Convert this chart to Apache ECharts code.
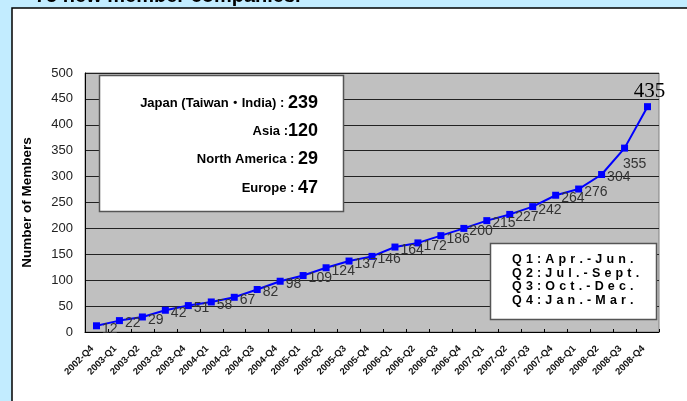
<!DOCTYPE html>
<html>
<head>
<meta charset="utf-8">
<script src="https://cdn.jsdelivr.net/npm/echarts@6/dist/echarts.min.js"></script>
<style>
html,body{margin:0;padding:0;background:#c2ecff;}
#c{width:687px;height:401px;}
</style>
</head>
<body>
<div id="c"></div>
<script>
const categories = ['2002-Q4','2003-Q1','2003-Q2','2003-Q3','2003-Q4','2004-Q1','2004-Q2','2004-Q3','2004-Q4','2005-Q1','2005-Q2','2005-Q3','2005-Q4','2006-Q1','2006-Q2','2006-Q3','2006-Q4','2007-Q1','2007-Q2','2007-Q3','2007-Q4','2008-Q1','2008-Q2','2008-Q3','2008-Q4'];
const members = [12,22,29,42,51,58,67,82,98,109,124,137,146,164,172,186,200,215,227,242,264,276,304,355,435];
const yTicks = [0,50,100,150,200,250,300,350,400,450,500];
const regionNames = ['Japan (Taiwan・India) : ','Asia :','North America : ','Europe : '];
const regionCounts = [239,120,29,47];
const quarterNotes = ['Q1:Apr.-Jun.','Q2:Jul.-Sept.','Q3:Oct.-Dec.','Q4:Jan.-Mar.'];
const titleText = '75 new member companies.';
const yAxisName = 'Number of Members';

const spaced = s => s.split('').join('\u2004');
const chart = echarts.init(document.getElementById('c'), null, {renderer:'canvas'});

const data = members.map((v,i)=>{
  const d = {value:v};
  if (i === members.length-2) {
    d.label = {position:'bottom', distance:6, offset:[10,0]};
  } else if (i === members.length-1) {
    d.label = {position:'top', distance:1, offset:[2,0], fontFamily:'"Liberation Serif","Times New Roman",serif', fontSize:21, color:'#000'};
  }
  return d;
});

const graphics = [
  {type:'rect', z:-10, shape:{x:12,y:8,width:700,height:420}, style:{fill:'#fff', stroke:'#000', lineWidth:1.5}},
  {type:'text', z:-20, style:{text:titleText, x:35, y:6, align:'left', verticalAlign:'bottom', font:'bold 20px "Liberation Sans",Arial,sans-serif', fill:'#000'}},
  {type:'rect', z:10, shape:{x:99.5,y:75.5,width:244,height:136}, style:{fill:'#fff', stroke:'#555', lineWidth:1.5}},
  {type:'rect', z:10, shape:{x:490.5,y:243.5,width:166,height:76}, style:{fill:'#fff', stroke:'#555', lineWidth:1.5}}
];
const rowY = [103,131,159,188];
regionNames.forEach((n,i)=>{
  graphics.push({type:'text', z:11, style:{
    text:'{a|'+n+'}{b|'+regionCounts[i]+'}', x:318, y:rowY[i], align:'right', verticalAlign:'middle',
    rich:{
      a:{fontFamily:'"Liberation Sans",Arial,"Noto Sans CJK JP",sans-serif', fontWeight:'bold', fontSize:13, fill:'#000', color:'#000'},
      b:{fontFamily:'"Liberation Sans",Arial,sans-serif', fontWeight:'bold', fontSize:18, fill:'#000', color:'#000'}
    }
  }});
});
const qY = [260,273.5,287,300.5];
quarterNotes.forEach((q,i)=>{
  graphics.push({type:'text', z:11, style:{text:spaced(q), x:512, y:qY[i], align:'left', verticalAlign:'middle', font:'bold 12.5px "Liberation Sans",Arial,sans-serif', fill:'#000'}});
});

chart.setOption({
  animation:false,
  backgroundColor:'transparent',
  graphic:graphics,
  grid:{left:85, right:28, top:73, bottom:69, show:true, backgroundColor:'#c0c0c0', borderColor:'#808080', borderWidth:1},
  xAxis:{
    type:'category', data:categories, boundaryGap:true,
    axisLine:{show:true, lineStyle:{color:'#000', width:1}},
    axisTick:{show:true, inside:true, length:3, lineStyle:{color:'#000'}},
    axisLabel:{interval:0, rotate:45, margin:11, padding:[0,6,0,0], fontSize:9.5, fontWeight:'bold', color:'#111', fontFamily:'"Liberation Sans",Arial,sans-serif'}
  },
  yAxis:{
    type:'value', min:yTicks[0], max:yTicks[yTicks.length-1], interval:yTicks[1]-yTicks[0],
    name:yAxisName, nameLocation:'middle', nameGap:51, nameRotate:90,
    nameTextStyle:{fontSize:13.5, fontWeight:'bold', color:'#000', fontFamily:'"Liberation Sans",Arial,sans-serif'},
    axisLine:{show:true, lineStyle:{color:'#000'}},
    axisTick:{show:false},
    axisLabel:{fontSize:13, color:'#222', margin:12, fontFamily:'"Liberation Sans",Arial,sans-serif'},
    splitLine:{show:true, lineStyle:{color:'#222', width:1}}
  },
  series:[{
    type:'line', data:data, symbol:'rect', symbolSize:7,
    itemStyle:{color:'#0000ff'}, lineStyle:{color:'#0000ff', width:2},
    label:{show:true, position:'right', distance:2, offset:[0,3], fontSize:14, color:'#333', fontFamily:'"Liberation Sans",Arial,sans-serif'}
  }]
});
</script>
</body>
</html>
